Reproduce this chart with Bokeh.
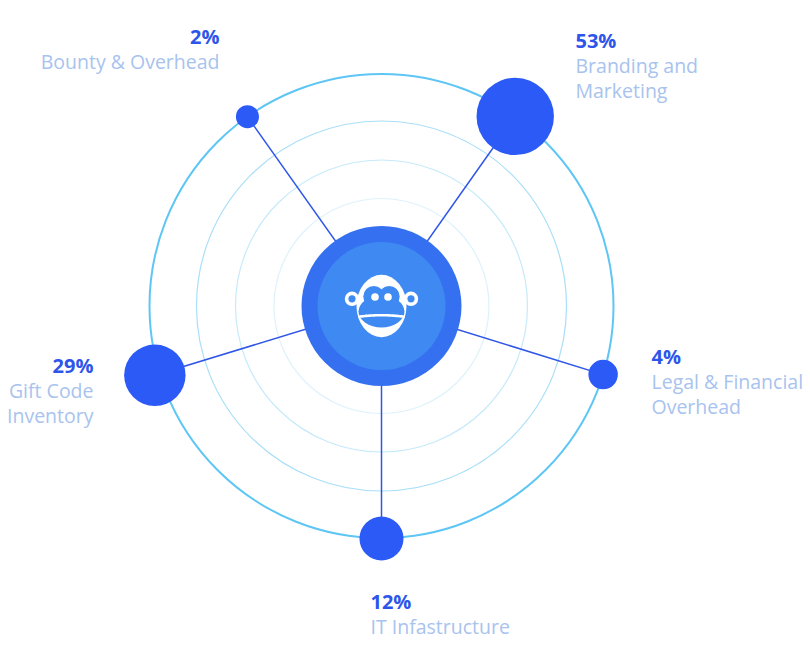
import numpy as np
from bokeh.plotting import figure
from bokeh.models import Range1d, ColumnDataSource
from bokeh.core.properties import value
from bokeh.embed import file_html
from bokeh.resources import INLINE

# ---- data ----
categories = ["Branding and Marketing", "Legal & Financial Overhead",
              "IT Infastructure", "Gift Code Inventory", "Bounty & Overhead"]
shares = [53, 4, 12, 29, 2]
label_lines = [["Branding and", "Marketing"],
               ["Legal & Financial", "Overhead"],
               ["IT Infastructure"],
               ["Gift Code", "Inventory"],
               ["Bounty & Overhead"]]

# ---- layout ----
W, H = 810, 660
CX, CY = 381, 305.5
ORBIT = 232
RING_R = [185, 146, 107.5]
RING_C = ["#A9DFF8", "#C6EAFA", "#DDF2FC"]
# angular position (deg) and orbit distance of each bubble
bubble_angle = [54.8, -17.2, -90, -163, 125.3]
bubble_dist = [232, 232, 232.5, 237, 232]
# label anchor (x, align, y of percent line) per category
label_anchor = [(575, "left", 40), (651, "left", 356), (370, "left", 601),
                (93, "right", 365), (219, "right", 36)]
LINE_GAP = 25
FONT = "Open Sans"

p = figure(width=W, height=H, output_backend="svg", toolbar_location=None,
           x_range=Range1d(0, W), y_range=Range1d(H, 0), min_border=0)
p.axis.visible = False
p.grid.visible = False
p.outline_line_color = None
p.background_fill_color = "white"
p.border_fill_color = "white"

# rings
for r, c in zip(RING_R, RING_C):
    p.circle(x=CX, y=CY, radius=r, fill_color=None, line_color=c, line_width=1.2)
p.circle(x=CX, y=CY, radius=ORBIT, fill_color=None, line_color="#5EC6F5", line_width=2)

# bubbles
ang = np.radians(bubble_angle)
dist = np.array(bubble_dist, dtype=float)
bx = CX + dist * np.cos(ang)
by = CY - dist * np.sin(ang)
br = 1.5 + 7.6 * np.array(shares, dtype=float) ** 0.4
src = ColumnDataSource(dict(x=bx, y=by, r=br, cat=categories, share=shares))

p.segment(x0=CX, y0=CY, x1="x", y1="y", source=src, line_color="#2E55E8", line_width=1.5)

# center disk
p.circle(x=CX, y=CY, radius=80, fill_color="#3470F0", line_color=None)
p.circle(x=CX, y=CY, radius=64, fill_color="#3E8AF2", line_color=None)

# monkey icon
WHITE = "white"
INNER = "#3E8AF2"
p.circle(x=[CX - 29.5, CX + 29.5], y=[CY - 7.2, CY - 7.2], radius=7.2, fill_color=WHITE, line_color=None)
p.circle(x=[CX - 29.5, CX + 29.5], y=[CY - 7.2, CY - 7.2], radius=3.6, fill_color=INNER, line_color=None)
p.ellipse(x=CX, y=CY, width=50, height=62.5, fill_color=WHITE, line_color=None)
p.circle(x=[CX - 7.7, CX + 7.7], y=[CY - 9.5, CY - 9.5], radius=10.5, fill_color=INNER, line_color=None)
p.ellipse(x=CX, y=CY + 5.5, width=46, height=32, fill_color=INNER, line_color=None)
t = np.linspace(-23, 23, 30)
p.line(x=CX + t, y=CY + 9.2 + 0.003 * t ** 2, line_color=WHITE, line_width=2.6)
p.circle(x=[CX - 6.5, CX + 6.5], y=[CY - 9, CY - 9], radius=3.8, fill_color=WHITE, line_color=None)

p.circle(x="x", y="y", radius="r", source=src, fill_color="#2C5AF6", line_color=None)

# labels
for i, (ax, align, py) in enumerate(label_anchor):
    p.text(x=[ax], y=[py], text=[f"{shares[i]}%"], text_align=align, text_baseline="middle",
           text_font=value(FONT), text_font_style="bold", text_font_size="20px", text_color="#2D55EA")
    for j, ln in enumerate(label_lines[i]):
        p.text(x=[ax], y=[py + LINE_GAP * (j + 1)], text=[ln], text_align=align, text_baseline="middle",
               text_font=value(FONT), text_font_size="19.5px", text_color="#A8C3EE")

open("out.html", "w").write(file_html(p, INLINE))
